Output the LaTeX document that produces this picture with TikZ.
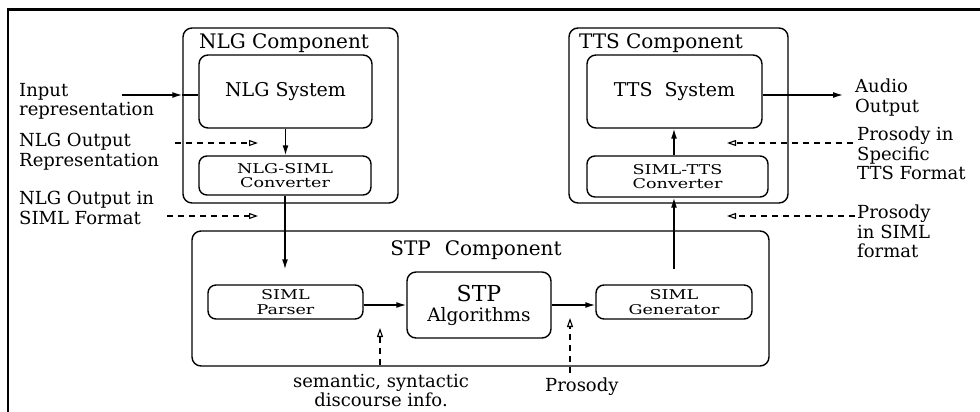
\documentclass[tikz,border=0pt]{standalone}
\usepackage{fontspec}
\setmainfont{DejaVu Serif}
\usetikzlibrary{arrows.meta, positioning}

% wide small lettering of the inner boxes
\newcommand{\widetext}[1]{\scalebox{1.3}[1]{#1}}

\begin{document}
\begin{tikzpicture}[
        x=1pt, y=-1pt,
        comp/.style={
            rectangle,
            draw,
            line width=1.4pt,
            rounded corners=9pt,
            inner sep=0pt
        },
        sysbox/.style={
            rectangle,
            draw,
            line width=1.4pt,
            rounded corners=9pt,
            inner sep=0pt,
            align=center,
            font=\fontsize{19}{20}\selectfont
        },
        convbox/.style={
            rectangle,
            draw,
            line width=1.4pt,
            rounded corners=8pt,
            inner sep=0pt,
            align=center,
            font=\fontsize{13.5}{14.5}\selectfont
        },
        title/.style={inner sep=0pt, font=\fontsize{20}{22}\selectfont},
        lbl/.style={inner sep=0pt, align=left, font=\fontsize{18}{19.5}\selectfont},
        arrow/.style={-{Latex[length=10pt, width=6pt]}, line width=1.4pt},
        hint/.style={-{Triangle[open, length=9pt, width=6pt]}, dash pattern=on 6pt off 5pt, line width=1.1pt}
    ]

    \useasboundingbox (0,0) rectangle (980,412);
    \draw [line width=2.4pt] (8,412) -- (8,9.5) -- (980,9.5);

    % NLG side
    \node (nlgcomp) [comp, minimum width=215pt, minimum height=175pt] at (290.5,115.5) {};
    \node (nlgtitle) [title] at (284,43) {NLG Component};
    \node (nlgsys) [sysbox, minimum width=173pt, minimum height=73pt] at (285.5,91.5) {NLG System};
    \node (nlgconv) [convbox, minimum width=172pt, minimum height=39pt] at (285,175.5) {\widetext{NLG-SIML}\\\widetext{Converter}};

    % TTS side
    \node (ttscomp) [comp, minimum width=219pt, minimum height=175pt] at (678.5,115.5) {};
    \node (ttstitle) [title] at (661,43) {TTS Component};
    \node (ttssys) [sysbox, minimum width=175pt, minimum height=73pt] at (674.5,91.5) {TTS\ \ System};
    \node (ttsconv) [convbox, minimum width=181pt, minimum height=41pt] at (677.5,176.5) {\widetext{SIML-TTS}\\\widetext{Converter}};

    % STP
    \node (stpcomp) [comp, minimum width=577pt, minimum height=135pt] at (480.5,298.5) {};
    \node (stptitle) [title] at (476,250) {STP\hspace{14pt}Component};
    \node (parser) [convbox, minimum width=155pt, minimum height=34pt] at (285.5,302) {\widetext{SIML}\\\widetext{Parser}};
    \node (algo) [sysbox, minimum width=144pt, minimum height=66pt] at (479,305) {{\fontsize{22}{21}\selectfont STP}\\{\fontsize{18.5}{21}\selectfont Algorithms}};
    \node (gen) [convbox, minimum width=156pt, minimum height=34pt] at (674,302) {\widetext{SIML}\\\widetext{Generator}};

    % side labels
    \node (inp) [lbl, anchor=north west] at (19,83) {Input\\representation};
    \node (outrep) [lbl, anchor=north west] at (19,133) {NLG Output\\Representation};
    \node (outsiml) [lbl, anchor=north west] at (19,191) {NLG Output in\\SIML Format};
    \node (audio) [lbl, anchor=north west] at (855,79) {Audio\\Output};
    \node (prosspec) [lbl, anchor=north west] at (857,127) {Prosody in\\Specific\\TTS Format};
    \node (prossiml) [lbl, anchor=north west] at (857,205) {Prosody\\in SIML\\format};
    \node (seminfo) [lbl, align=center, anchor=north] at (381,374) {semantic, syntactic\\discourse info.};
    \node (prosody) [lbl, anchor=north west] at (545,378) {Prosody};

    \coordinate (instart) at (122,95);
    \coordinate (audioend) at (843,95);
    \coordinate (repstart) at (175,143);
    \coordinate (reptip) at (258,143);
    \coordinate (simlstart) at (167,216);
    \coordinate (simltip) at (258,216);
    \coordinate (specstart) at (853,143);
    \coordinate (spectip) at (727,143);
    \coordinate (psimlstart) at (855,216);
    \coordinate (psimltip) at (727,216);
    \coordinate (semstart) at (380,365);
    \coordinate (semtip) at (380,328);
    \coordinate (prostart) at (570,373);
    \coordinate (protip) at (570,318);

    % data flow
    \draw [arrow] (instart) -- (instart -| nlgcomp.west);
    \draw [line width=1.4pt] (instart -| nlgcomp.west) -- (instart -| nlgsys.west);
    \draw [arrow] (nlgsys.south) -- (nlgsys.south |- nlgconv.north);
    \draw [arrow, shorten >=15pt] (nlgconv.south) -- (nlgconv.south |- parser.north);
    \draw [arrow] (parser.east |- algo) -- (algo.west);
    \draw [arrow] (algo.east) -- (gen.west |- algo);
    \draw [arrow, shorten <=15pt] (gen.north) -- (gen.north |- ttsconv.south);
    \draw [arrow] (ttsconv.north -| gen.north) -- (ttssys.south -| gen.north);
    \draw [arrow] (audioend -| ttssys.east) -- (audioend);

    % representations
    \draw [hint] (repstart) -- (reptip);
    \draw [hint] (simlstart) -- (simltip);
    \draw [hint] (specstart) -- (spectip);
    \draw [hint] (psimlstart) -- (psimltip);
    \draw [hint] (semstart) -- (semtip);
    \draw [hint] (prostart) -- (protip);

\end{tikzpicture}
\end{document}
